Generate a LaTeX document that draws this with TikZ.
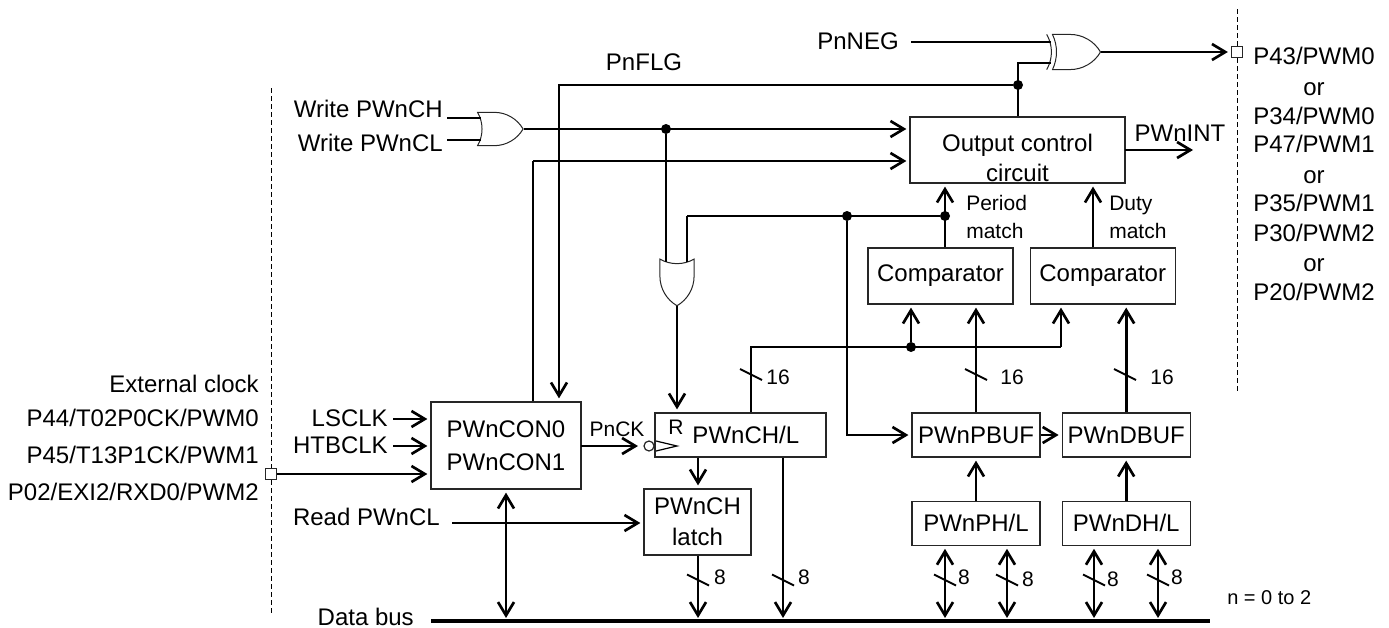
\documentclass[tikz,border=0pt]{standalone}
\usepackage{fontspec}
\setmainfont{Liberation Sans}
\usepackage{xcolor}
\usepackage{tikz}
\usetikzlibrary{arrows.meta,positioning,shapes.gates.logic.US}

\begin{document}
\begin{tikzpicture}[
  x=0.75pt, y=-0.75pt,
  blk/.style={rectangle, draw=black!85, line width=0.9pt, inner sep=1pt, align=center,
    font=\fontsize{18}{23}\selectfont},
  lbl/.style={inner sep=0pt, text height=12.9pt, text depth=0pt, font=\fontsize{18}{23}\selectfont},
  sml/.style={inner sep=0pt, text height=11.3pt, text depth=0pt, font=\fontsize{15.75}{21}\selectfont},
  sig/.style={-{Straight Barb[length=10pt,width=12pt]}, line width=2pt, shorten >=2.25pt},
  bidir/.style={{Straight Barb[length=10pt,width=12pt]}-{Straight Barb[length=10pt,width=12pt]},
    line width=2pt, shorten >=2.25pt, shorten <=2.25pt},
  wire/.style={line width=2pt},
  thinw/.style={line width=0.9pt},
  junc/.style={circle, fill=black, inner sep=0pt, minimum size=7.5pt},
  padbox/.style={rectangle, draw=black!85, fill=white, line width=0.9pt, inner sep=0pt, minimum size=8.25pt},
  orgate/.style={or gate US, draw=black!85, line width=0.75pt, logic gate inputs=nn, inner sep=0pt,
    logic gate input sep=8pt}
]
\useasboundingbox (0,0) rectangle (1389,628);

\node[blk, minimum width=112.5pt, minimum height=65.25pt] (con) at (506,445.5) {PWnCON0\\[1.5pt]PWnCON1};
\node[blk, minimum width=128.25pt, minimum height=33pt] (chl) at (740.5,435) {\hspace*{8pt}PWnCH/L};
\node[blk, minimum width=80.25pt, minimum height=49.5pt] (latch) at (697.5,522) {PWnCH\\latch};
\node[blk, minimum width=161.25pt, minimum height=49.5pt] (out) at (1017.5,150) {};
\node[inner sep=0pt, align=center, font=\fontsize{18}{22.5}\selectfont] (outtxt) at (1017.5,158) {Output control\\circuit};

\node[blk, minimum width=96pt, minimum height=33pt] (pbuf) at (976,435) {PWnPBUF};
\node[blk, minimum width=96pt, minimum height=33pt, right=15.75pt of pbuf] (dbuf) {PWnDBUF};
\node[blk, minimum width=96pt, minimum height=33pt, below=32.25pt of pbuf] (phl) {PWnPH/L};
\node[blk, minimum width=96pt, minimum height=33pt, below=32.25pt of dbuf] (dhl) {PWnDH/L};
\node[blk, minimum width=108.75pt, minimum height=42pt] (cmpa) at (940.5,276) {Comparator};
\node[blk, minimum width=108.75pt, minimum height=42pt, right=12pt of cmpa] (cmpb) {Comparator};

\node[orgate, minimum width=33.75pt, minimum height=25pt] (orw) at (497,129) {};
\node[orgate, minimum width=35pt, minimum height=25pt, rotate=-90] (orr) at (677,279) {};
\node[orgate, xor gate US, minimum width=36pt, minimum height=25pt] (xneg) at (1073,52) {};

\node[lbl, anchor=east] (wch) at (443,109) {Write PWnCH};
\node[lbl, anchor=east] (wcl) at (443,143) {Write PWnCL};
\node[lbl] (flg) at (644,62) {PnFLG};
\node[lbl, anchor=east] (neg) at (899,41) {PnNEG};
\node[lbl, anchor=east] (ls) at (388,418) {LSCLK};
\node[lbl, anchor=east] (htb) at (388,445) {HTBCLK};
\node[lbl, anchor=east] (rd) at (440,517) {Read PWnCL};
\node[lbl, anchor=east] (dbus) at (414,617) {Data bus};
\node[lbl, anchor=east] (extclk) at (259,384) {External clock};
\node[lbl, anchor=east] (pa) at (259,418) {P44/T02P0CK/PWM0};
\node[lbl, anchor=east] (pb) at (259,455) {P45/T13P1CK/PWM1};
\node[lbl, anchor=east] (pc) at (259,492) {P02/EXI2/RXD0/PWM2};
\node[lbl] (pwint) at (1180,133) {PWnINT};

\node[sml] (ck) at (617,429) {PnCK};
\node[sml] (rst) at (676,427) {R};
\node[sml, anchor=west, align=left, text height=, text depth=] (pm) at (966,217) {Period\\match};
\node[sml, anchor=west, align=left, text height=, text depth=] (dm) at (1109,217) {Duty\\match};
\node[sml, anchor=west, font=\fontsize{15}{18}\selectfont] (nrange) at (1227,597) {n = 0 to 2};

\foreach \n/\y/\t in {a/56/{P43/PWM0}, b/87/or, c/116/{P34/PWM0}, d/144/{P47/PWM1}, e/175/or,
    f/203/{P35/PWM1}, g/233/{P30/PWM2}, h/263/or, k/292/{P20/PWM2}}
  \node[lbl] (r\n) at (1314,\y) {\t};

\node[padbox] (padr) at (1237,52) {};
\node[padbox] (padl) at (271,474) {};
\coordinate (dashra) at (1237,9);
\coordinate (dashrb) at (1237,392);
\coordinate (dashla) at (271,88);
\coordinate (dashlb) at (271,615);
\draw[line width=0.75pt, dash pattern=on 3.5pt off 2.5pt] (dashra) -- (padr);
\draw[line width=0.75pt, dash pattern=on 3.5pt off 2.5pt] (padr) -- (dashrb);
\draw[line width=0.75pt, dash pattern=on 3.5pt off 2.5pt] (dashla) -- (padl);
\draw[line width=0.75pt, dash pattern=on 3.5pt off 2.5pt] (padl) -- (dashlb);

\coordinate (busl) at (431,621);
\coordinate (busr) at (1210,621);
\draw[line width=3pt] (busl) -- (busr);

\coordinate (orwa) at (481,118);
\coordinate (orwb) at (481,140);
\coordinate (xnega) at (1051,42);
\coordinate (xnegb) at (1051,63);
\coordinate (orra) at (666,262);
\coordinate (orrb) at (687,262);
\draw[thinw] ([xshift=3pt]wch.east |- orwa) -- (orwa);
\draw[thinw] ([xshift=3pt]wcl.east |- orwb) -- (orwb);
\draw[thinw] ([xshift=9pt]neg.east |- xnega) -- (xnega);

\node[junc] (jor) at (666,129) {};
\node[junc] (jflg) at (1018,85) {};
\node[junc] (jmid) at (847,216) {};
\node[junc] (jper) at (945,216) {};
\node[junc] (jcmp) at (911,347) {};
\coordinate (fbk) at (533,161);
\coordinate (flgc) at (559,85);
\coordinate (negc) at (1018,63);
\coordinate (perr) at (687,216);
\coordinate (cnta) at (751,347);
\coordinate (cntb) at (1061,347);
\coordinate (rdl) at (452,523);
\coordinate (ckl) at (581,446);
\coordinate (intl) at (1125,150);

\draw[sig] (orw.output) -- (orw.output -| out.west);
\draw[sig] (fbk) -- (fbk -| out.west);
\draw[thinw] (con.north -| fbk) -- (fbk);
\draw[sig] (jflg) -- (flgc) -- (flgc |- con.north);
\draw[thinw] (out.north -| jflg) -- (negc) -- (xnegb);
\draw[sig] (xneg.output) -- (padr.west);
\draw[sig] (intl) -- (1196,150);

\draw[wire] (jor) -- (orra);
\draw[wire] (jper) -- (perr);
\draw[thinw] (perr) -- (orrb);
\draw[sig] (orr.output) -- (orr.output |- chl.north);
\draw[sig] (jmid) |- (pbuf.west);
\draw[sig] (cmpa.north -| jper) -- (jper |- out.south);
\draw[sig] (1093,0 |- cmpb.north) -- (1093,0 |- out.south);

\draw[wire] (cnta |- chl.north) -- (cnta) -- (cntb);
\draw[sig] (jcmp) -- (jcmp |- cmpa.south);
\draw[sig] (cntb) -- (cntb |- cmpb.south);
\draw[sig] (pbuf.north) -- (pbuf.north |- cmpa.south);
\draw[sig] (dbuf.north) -- (dbuf.north |- cmpb.south);
\draw[sig] (pbuf.east) -- (dbuf.west);
\draw[sig] (phl.north) -- (pbuf.south);
\draw[sig] (dhl.north) -- (dbuf.south);

\draw[sig] (393,419) -- (393,419 -| con.west);
\draw[sig] (393,446) -- (393,446 -| con.west);
\draw[sig] (padl.east) -- (padl.east -| con.west);
\draw[sig] (rdl) -- (rdl -| latch.west);
\draw[bidir] (con.south) -- (con.south |- busl);

\draw[sig] (ckl) -- (641,446);
\node[circle, draw=black!85, line width=0.9pt, inner sep=0pt, minimum size=7.5pt] (clkinv) at (649,446) {};
\coordinate (clka) at (656,441);
\coordinate (clkb) at (677,446);
\coordinate (clkc) at (656,451);
\draw[thinw] (clka) -- (clkb) -- (clkc);

\draw[sig] (698,0 |- chl.south) -- (698,0 |- latch.north);
\draw[sig] (698,0 |- latch.south) -- (698,0 |- busl);
\draw[sig] (783,0 |- chl.south) -- (783,0 |- busl);
\foreach \x in {945,1007} \draw[bidir] (\x,0 |- phl.south) -- (\x,0 |- busl);
\foreach \x in {1094,1158} \draw[bidir] (\x,0 |- dhl.south) -- (\x,0 |- busl);

\foreach \x/\lx/\ly in {698/720/577, 783/804/577, 945/964/577, 1007/1028/579, 1094/1113/579, 1158/1177/577} {
  \draw[line width=1.5pt] (\x-11,574.5) -- (\x+11,585.5);
  \node[sml] at (\lx,\ly) {8};
}
\foreach \x/\lx in {751/778, 976/1012, 1125/1162} {
  \draw[line width=1.5pt] (\x-11,369) -- (\x+11,380);
  \node[sml] at (\lx,377) {16};
}

\end{tikzpicture}
\end{document}
